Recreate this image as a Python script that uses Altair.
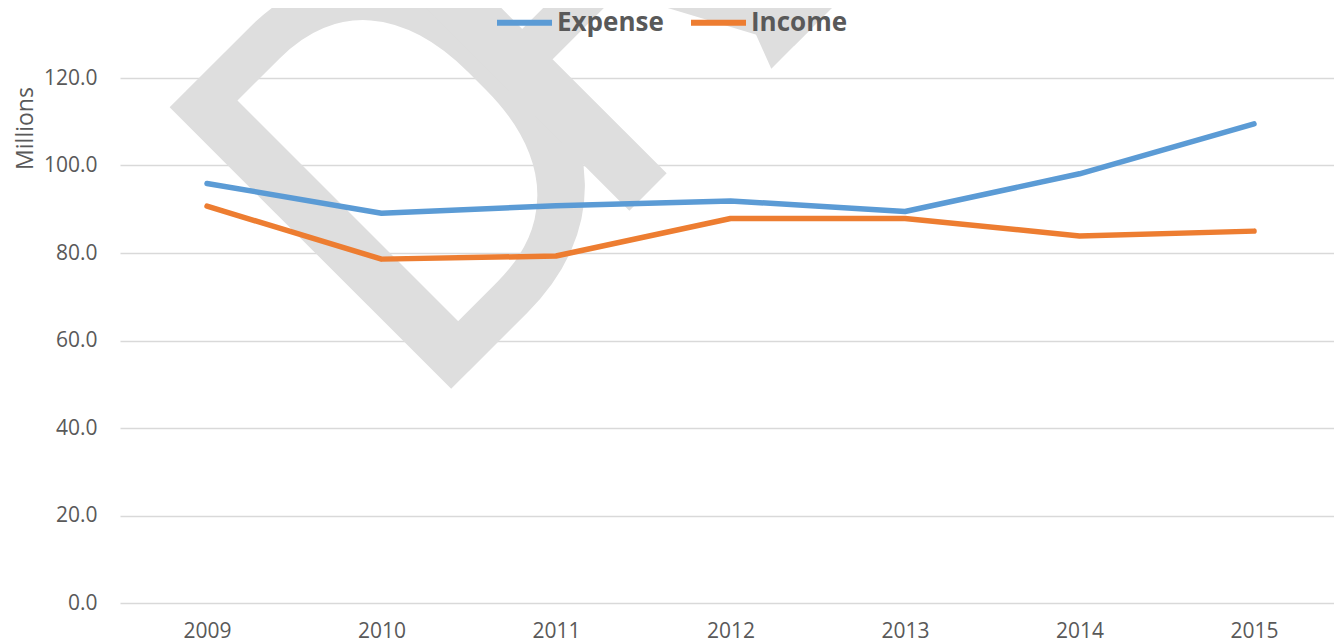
import math
import altair as alt
import pandas as pd

years = ["2009", "2010", "2011", "2012", "2013", "2014", "2015"]
expense = [95.9, 89.1, 90.8, 91.9, 89.5, 98.1, 109.5]
income = [90.7, 78.6, 79.3, 87.9, 87.9, 83.9, 85.0]
series = ["Expense", "Income"]
colors = ["#5B9BD5", "#ED7D31"]
y_ticks = [0, 20, 40, 60, 80, 100, 120]
watermark_letters = ["D", "R", "A", "F", "T"]

rows = []
for name, vals in zip(series, [expense, income]):
    for yr, v in zip(years, vals):
        rows.append({"Year": yr, "Series": name, "Value": v})
df = pd.DataFrame(rows)

W, H = 1214, 595
FONT = "Open Sans"
TXT = "#595959"

# watermark layout: letters placed along a 45-degree baseline
wm_origin = (298.5, 413.5)
wm_advance = [0, 252, 239, 240, 200]
wm_rows = []
cum = 0.0
for letter, adv in zip(watermark_letters, wm_advance):
    cum += adv
    wm_rows.append({"t": letter,
                    "px": wm_origin[0] + cum / math.sqrt(2),
                    "py": wm_origin[1] - cum / math.sqrt(2)})
wm_df = pd.DataFrame(wm_rows)

wm = alt.Chart(wm_df).mark_text(
    align="left", baseline="alphabetic", angle=315, fontSize=560,
    font="Roboto", color="#dedede", clip=True
).encode(x=alt.X("px:Q", scale=None), y=alt.Y("py:Q", scale=None), text="t:N")

lines = alt.Chart(df).mark_line(
    strokeWidth=5.5, strokeCap="round", strokeJoin="round"
).encode(
    x=alt.X("Year:O", sort=years, scale=alt.Scale(padding=0.4785, align=0.521),
            axis=alt.Axis(title=None, labelAngle=0, domain=False, ticks=False,
                          tickSize=0, labelPadding=17, labelFont=FONT,
                          labelFontSize=21, labelColor=TXT, grid=False)),
    y=alt.Y("Value:Q", scale=alt.Scale(domain=[0, 136], nice=False, zero=True),
            axis=alt.Axis(values=y_ticks, format=".1f", title="Millions",
                          titleX=-95, titleY=120, titleAngle=270,
                          titleAlign="center", titleBaseline="middle",
                          titleFont=FONT, titleFontSize=23, titleFontWeight="normal",
                          titleColor=TXT, labelFont=FONT, labelFontSize=21,
                          labelColor=TXT, labelPadding=23, domain=False,
                          ticks=False, tickSize=0, gridColor="#d9d9d9",
                          gridWidth=1.3)),
    color=alt.Color("Series:N", scale=alt.Scale(domain=series, range=colors),
                    legend=alt.Legend(orient="none", legendX=374, legendY=-16,
                                      direction="horizontal", title=None,
                                      symbolType="stroke", symbolStrokeWidth=6,
                                      symbolSize=3025, labelFont=FONT,
                                      labelFontSize=26, labelFontWeight="bold",
                                      labelColor=TXT, labelOffset=2,
                                      columnPadding=15, padding=0)),
)

chart = alt.layer(wm, lines).properties(
    width=W, height=H,
    autosize=alt.AutoSizeParams(type="none"),
    padding={"left": 112, "top": 0, "right": 0, "bottom": 40},
).configure_view(stroke=None)

chart.save("out.html", embed_options={"renderer": "svg", "actions": False})
